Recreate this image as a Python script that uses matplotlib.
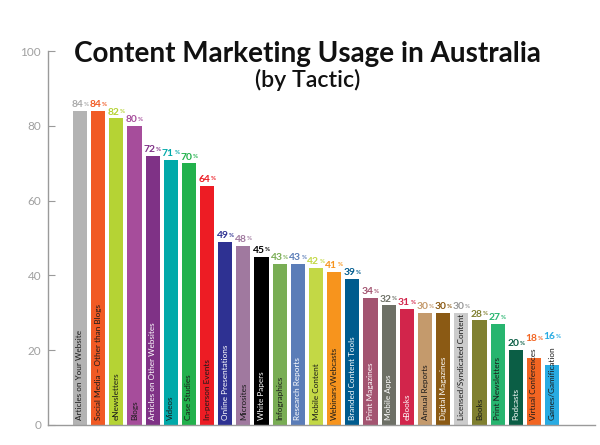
import matplotlib
matplotlib.use('Agg')
import matplotlib.pyplot as plt
from matplotlib import font_manager

categories = [
    "Articles on Your Website", "Social Media \u2013 Other than Blogs", "eNewsletters", "Blogs",
    "Articles on Other Websites", "Videos", "Case Studies", "In-person Events",
    "Online Presentations", "Microsites", "White Papers", "Infographics",
    "Research Reports", "Mobile Content", "Webinars/Webcasts", "Branded Content Tools",
    "Print Magazines", "Mobile Apps", "eBooks", "Annual Reports", "Digital Magazines",
    "Licensed/Syndicated Content", "Books", "Print Newsletters", "Podcasts",
    "Virtual Conferences", "Games/Gamification",
]
values = [84, 84, 82, 80, 72, 71, 70, 64, 49, 48, 45, 43, 43, 42, 41, 39, 34, 32, 31,
          30, 30, 30, 28, 27, 20, 18, 16]
bar_colors = [
    "#b3b3b3", "#f15a24", "#b5d334", "#a64d9b", "#7f3286", "#00a9a9", "#22b14c", "#ed1c24",
    "#2e3192", "#a0799f", "#000000", "#79ad54", "#5b7db8", "#c3d845", "#f7941d", "#005b8e",
    "#a35470", "#6d7066", "#d2254b", "#c49a6c", "#8b5a14", "#cccccc", "#808030", "#27b56f",
    "#0b5e45", "#f26522", "#29abe2",
]
value_colors = list(bar_colors)
value_colors[0] = "#aaaaaa"
value_colors[21] = "#999999"
D, W = "#1a1a1a", "#ffffff"
label_colors = [D, D, D, D, W, D, D, D, W, D, W, D, W, D, D, W, W, W, W, D, W, D, D, D, W, D, D]

names = {f.name for f in font_manager.fontManager.ttflist}
FONT = next((n for n in ["Lato", "Open Sans", "Roboto"] if n in names), "DejaVu Sans")
FAM = [FONT, "DejaVu Sans"]

fig = plt.figure(figsize=(6, 4.45), dpi=100)
ax = fig.add_axes([0.08, 0.045, 0.912, 0.84])
x = list(range(len(values)))
ax.bar(x, values, width=0.78, color=bar_colors, zorder=2)
ax.set_xlim(-1.76, 28.37)
ax.set_ylim(0, 100)
ax.set_yticks([0, 20, 40, 60, 80, 100])
ax.set_xticks([])
for s in ("top", "right"):
    ax.spines[s].set_visible(False)
for s in ("left", "bottom"):
    ax.spines[s].set_color("#9a9a9a")
    ax.spines[s].set_linewidth(1.0)
ax.tick_params(axis="y", direction="in", length=5, color="#9a9a9a", labelcolor="#a0a0a0",
               labelsize=8.5, pad=5)
for t in ax.get_yticklabels():
    t.set_family(FAM)

fig.canvas.draw()
r = fig.canvas.get_renderer()


def fit(t, target):
    for _ in range(3):
        bb = t.get_window_extent(r)
        t.set_fontsize(t.get_fontsize() * target / bb.width)


def text_len(s, size, **kw):
    p = fig.text(0, 0, s, fontsize=size, family=FAM, **kw)
    w = p.get_window_extent(r).width
    p.remove()
    return w


probe = fig.text(0, 0, categories[0], fontsize=7, family=FAM)
fit(probe, 91)
cat_size = probe.get_fontsize()
probe.remove()

probe = fig.text(0, 0, "49", fontsize=8, fontweight="bold", family=FAM)
fit(probe, 12)
num_size = probe.get_fontsize()
probe.remove()

px_per_unit = ax.transData.transform((0, 1))[1] - ax.transData.transform((0, 0))[1]
label_y = 1.2
nums = []
for i, (c, col, v) in enumerate(zip(categories, label_colors, values)):
    ax.text(i, label_y, c, rotation=90, ha="center", va="bottom", fontsize=cat_size,
            color=col, family=FAM, zorder=3)
    top = label_y + text_len(c, cat_size) / px_per_unit
    base, off = v, 1.3
    if top > v - 0.3:
        base, off = top, 4
    n = ax.annotate(str(v), xy=(i, base), xytext=(-2.0, off), textcoords="offset points",
                    ha="center", va="bottom", fontsize=num_size, fontweight="bold",
                    color=value_colors[i], family=FAM, zorder=4)
    nums.append(n)

fig.canvas.draw()
for i, n in enumerate(nums):
    bb = n.get_window_extent(r)
    ax.annotate("%", xy=(bb.x1 + 0.3, bb.y1 - 1.5), xycoords="figure pixels",
                ha="left", va="top", fontsize=num_size * 0.6, fontweight="bold",
                color=value_colors[i], family=FAM, zorder=4)

title = fig.text(0.512, 0.861, "Content Marketing Usage in Australia", ha="center",
                 va="baseline", fontsize=20, fontweight="bold", color="#111111", family=FAM)
fit(title, 468)
sub = fig.text(0.512, 0.805, "(by Tactic)", ha="center", va="baseline",
               fontsize=18, fontweight="semibold", color="#111111", family=FAM)
fit(sub, 105)

fig.savefig("out.png", dpi=100, facecolor="white")
